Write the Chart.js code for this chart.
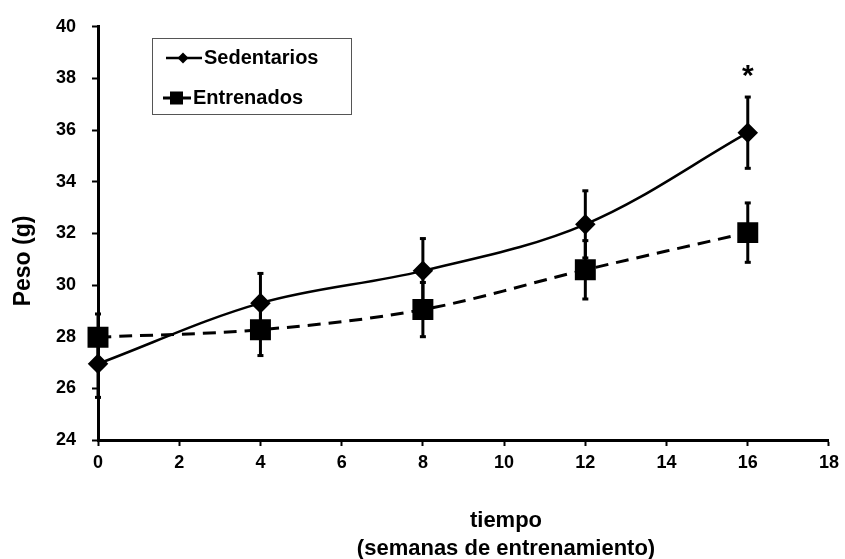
<!DOCTYPE html>
<html>
<head>
<meta charset="utf-8">
<script src="https://cdn.jsdelivr.net/npm/chart.js@4.4.1/dist/chart.umd.min.js"></script>
<style>
  html, body { margin: 0; padding: 0; background: #fff; overflow: hidden; }
  canvas { display: block; }
</style>
</head>
<body>
<canvas id="lineChart" width="845" height="559"></canvas>
<script>
// datos
const semanas = [0, 4, 8, 12, 16]
const sedentarios = [26.95, 29.3, 30.55, 32.35, 35.9]
const sedentariosErr = [1.3, 1.15, 1.25, 1.3, 1.38]
const entrenados = [27.98, 28.27, 29.05, 30.59, 32.03]
const entrenadosErr = [0.9, 1.0, 1.05, 1.13, 1.15]
const xTicks = [0, 2, 4, 6, 8, 10, 12, 14, 16, 18]
const yTicks = [24, 26, 28, 30, 32, 34, 36, 38, 40]
const significativo = [16] // semana con asterisco

const FONT = 'Arial, "Liberation Sans", sans-serif'
Chart.defaults.font.family = FONT
Chart.defaults.color = '#000'

const toXY = (vals) => semanas.map((s, i) => ({ x: s, y: vals[i] }))

// barras de error dibujadas con las escalas del grafico
const errorBars = {
  id: 'errorBars',
  beforeDatasetsDraw (chart) {
    const { ctx, scales: { x, y } } = chart
    ctx.save()
    ctx.strokeStyle = '#000'
    ctx.fillStyle = '#000'
    ctx.lineWidth = 3
    const sets = [[sedentarios, sedentariosErr], [entrenados, entrenadosErr]]
    sets.forEach(([vals, errs]) => {
      vals.forEach((v, i) => {
        const px = x.getPixelForValue(semanas[i])
        const top = y.getPixelForValue(v + errs[i])
        const bot = y.getPixelForValue(v - errs[i])
        ctx.beginPath()
        ctx.moveTo(px, top)
        ctx.lineTo(px, bot)
        ctx.stroke()
        ctx.fillRect(px - 3, top - 1.5, 6, 3)
        ctx.fillRect(px - 3, bot - 1.5, 6, 3)
      })
    })
    ctx.restore()
  }
}

// leyenda, titulos de ejes y asterisco
const extras = {
  id: 'extras',
  afterDraw (chart) {
    const { ctx, scales: { x, y } } = chart
    ctx.save()
    ctx.fillStyle = '#000'
    ctx.textBaseline = 'middle'

    // asterisco
    ctx.font = 'bold 30px ' + FONT
    ctx.textAlign = 'center'
    significativo.forEach(s => {
      const i = semanas.indexOf(s)
      ctx.fillText('*', x.getPixelForValue(s), y.getPixelForValue(sedentarios[i] + sedentariosErr[i]) - 20)
    })

    // titulo eje x
    ctx.font = 'bold 22px ' + FONT
    const cx = 506
    ctx.fillText('tiempo', cx, 521)
    ctx.fillText('(semanas de entrenamiento)', cx, 549)

    // titulo eje y
    ctx.font = 'bold 23px ' + FONT
    ctx.translate(24, 261)
    ctx.rotate(-Math.PI / 2)
    ctx.fillText('Peso (g)', 0, 0)
    ctx.setTransform(1, 0, 0, 1, 0, 0)

    // leyenda
    ctx.strokeStyle = '#555'
    ctx.lineWidth = 1
    ctx.strokeRect(152.5, 38.5, 199, 76)

    ctx.strokeStyle = '#000'
    ctx.lineWidth = 2.5
    ctx.beginPath()
    ctx.moveTo(166, 58)
    ctx.lineTo(202, 58)
    ctx.stroke()
    ctx.beginPath()
    ctx.moveTo(183, 52.5)
    ctx.lineTo(188.5, 58)
    ctx.lineTo(183, 63.5)
    ctx.lineTo(177.5, 58)
    ctx.closePath()
    ctx.fill()

    ctx.lineWidth = 3
    ctx.beginPath()
    ctx.moveTo(163, 98)
    ctx.lineTo(170, 98)
    ctx.moveTo(183, 98)
    ctx.lineTo(191, 98)
    ctx.stroke()
    ctx.fillRect(170, 91.5, 13, 13)

    ctx.font = 'bold 20px ' + FONT
    ctx.textAlign = 'left'
    ctx.fillText('Sedentarios', 204, 58)
    ctx.fillText('Entrenados', 193, 98)
    ctx.restore()
  }
}

const CHART = document.getElementById('lineChart')
const lineChart = new Chart(CHART, {
  type: 'line',
  data: {
    datasets: [
      {
        label: 'Sedentarios',
        data: toXY(sedentarios),
        borderColor: '#000',
        backgroundColor: '#000',
        borderWidth: 2.5,
        tension: 0.35,
        pointStyle: 'rectRot',
        pointRadius: 8.5,
        pointHoverRadius: 8.5,
        clip: false
      },
      {
        label: 'Entrenados',
        data: toXY(entrenados),
        borderColor: '#000',
        backgroundColor: '#000',
        borderWidth: 3,
        borderDash: [13, 8],
        tension: 0.35,
        pointStyle: 'rect',
        pointRadius: 12.7,
        pointHoverRadius: 12.7,
        clip: false
      }
    ]
  },
  options: {
    responsive: false,
    animation: false,
    events: [],
    layout: { padding: { top: 25, right: 13, left: 0, bottom: 0 } },
    plugins: {
      legend: { display: false },
      tooltip: { enabled: false }
    },
    scales: {
      x: {
        type: 'linear',
        min: 0,
        max: 18,
        afterFit: (s) => { s.height = 119 },
        afterBuildTicks: (s) => { s.ticks = xTicks.map(v => ({ value: v })) },
        border: { display: true, color: '#000', width: 3 },
        grid: { drawOnChartArea: false, drawTicks: true, tickLength: 6, tickWidth: 2, tickColor: '#000' },
        ticks: { padding: 6, font: { size: 18, weight: 'bold' }, color: '#000', maxRotation: 0 }
      },
      y: {
        min: 24,
        max: 40,
        afterFit: (s) => { s.width = 98 },
        afterBuildTicks: (s) => { s.ticks = yTicks.map(v => ({ value: v })) },
        border: { display: true, color: '#000', width: 3 },
        grid: { drawOnChartArea: false, drawTicks: true, tickLength: 6, tickWidth: 2, tickColor: '#000' },
        ticks: { padding: 16, font: { size: 18, weight: 'bold' }, color: '#000' }
      }
    }
  },
  plugins: [errorBars, extras]
})
</script>
</body>
</html>
